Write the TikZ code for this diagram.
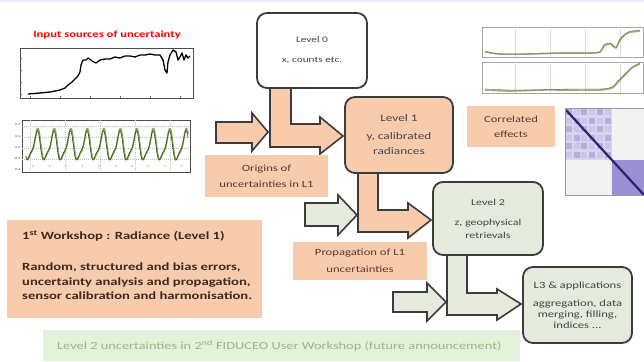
\documentclass[tikz,border=0pt]{standalone}
\usepackage{fontspec}
\setmainfont{Carlito}[FakeStretch=1.33]
\definecolor{peach}{HTML}{F8CBAD}
\definecolor{sage}{HTML}{E4EADC}
\definecolor{mint}{HTML}{E3F0DA}
\definecolor{minttext}{HTML}{9DB48B}
\definecolor{edge}{HTML}{3C3C3C}
\definecolor{ink}{HTML}{5A3A2A}
\definecolor{gray4}{HTML}{454545}
\definecolor{plotgreen}{HTML}{7FA34A}
\definecolor{matpurple}{HTML}{9C90D4}
\definecolor{matlight}{HTML}{D9D3F0}
\definecolor{matdark}{HTML}{2A2470}
\begin{document}
\begin{tikzpicture}[x=1pt,y=-1pt,
  levelbox/.style={draw=edge, line width=1.8pt, rounded corners=10pt, align=center, text=gray4, inner sep=2pt},
  notebox/.style={fill=peach, align=center, text=ink, inner sep=0pt},
  blockarrow/.style={draw=edge, line width=1.6pt, line join=miter},
  axesbox/.style={draw=black!70, line width=0.6pt},
]
\useasboundingbox (0,0) rectangle (644,361);
\fill[white] (0,0) rectangle (644,361);
\fill[blue!8] (0,0) rectangle (644,2);

% ---------- left plots ----------
\node[text=red, font=\fontsize{9.5}{10}\selectfont\bfseries] (title) at (107,35) {Input sources of uncertainty};
\draw[axesbox] (20,48) rectangle (193,98);
\foreach \t in {30,60,90,120,150,180} \draw[black!60, line width=0.4pt] (\t,98) -- (\t,96);
\foreach \t in {58,70,82,94} \draw[black!60, line width=0.4pt] (20,\t) -- (22,\t);
\draw[black, line width=1.3pt, line join=round] plot coordinates {(28,94) (40,93) (50,92) (55,91) (60,90) (65,88) (68,85) (72,82) (75,79) (78,76) (80,72) (81,65) (83,60) (86,60) (88,58) (92,61) (96,63) (100,60) (105,59) (110,59) (115,57) (120,58) (125,56) (130,56) (135,57) (140,55) (145,55) (150,54) (155,55) (160,55) (163,60) (165,70) (167,73) (168,62) (170,55) (173,50) (176,52) (178,60) (180,57) (182,53) (184,60) (186,55) (188,58) (190,56)};

\draw[axesbox] (22,120) rectangle (190,172);
\foreach \gy in {126,137,148,159} \draw[black!25, dash pattern=on 1pt off 1pt, line width=0.4pt] (22,\gy) -- (190,\gy);
\foreach \gx in {30,65,100,135,170} \draw[black!25, dash pattern=on 1pt off 1pt, line width=0.4pt] (\gx,120) -- (\gx,172);
\foreach \gy/\lab in {125/0.4,137/0.2,148/0.0,159/-0.2,170/-0.4}
  \node[font=\fontsize{3}{3}\selectfont, text=black!70, anchor=east, inner sep=0.5pt] at (21,\gy) {\lab};
\draw[plotgreen, line width=1.6pt, line join=round] plot[domain=26:188, samples=300, smooth] (\x, {146 - 14*sin(\x*21.8) + 4*sin(\x*43.6+40)});
\draw[black!75, line width=0.5pt, line join=round] plot[domain=26:188, samples=300, smooth] (\x, {147 - 13*sin(\x*21.8+10) + 4*sin(\x*43.6+50)});
\foreach \dx in {0,...,9} \fill[orange!70!yellow] ({33+16.5*\dx},166) circle (0.8);

% ---------- right plots ----------
\draw[axesbox, black!35] (482,27) rectangle (643,57);
\draw[axesbox, black!35] (482,62) rectangle (643,93);
\foreach \gx in {515,550,585,620} {
  \draw[black!15, line width=0.3pt] (\gx,27) -- (\gx,57);
  \draw[black!15, line width=0.3pt] (\gx,62) -- (\gx,93);
}
\draw[plotgreen!80, line width=1.6pt, line join=round] plot[smooth] coordinates {(485,52) (500,54) (530,54) (560,53) (590,53) (600,52) (604,46) (610,44) (616,48) (620,40) (628,33) (640,31)};
\draw[black!60, line width=0.4pt] plot[smooth] coordinates {(485,51) (500,54) (530,54) (560,53) (590,53) (600,52) (604,45) (610,43) (616,47) (620,39) (628,32) (640,30)};
\draw[plotgreen!80, line width=1.6pt, line join=round] plot[smooth] coordinates {(485,90) (510,91) (540,90) (570,90) (600,90) (612,88) (618,82) (625,75) (632,68) (640,64)};
\draw[black!60, line width=0.4pt] plot[smooth] coordinates {(485,89) (510,90) (540,90) (570,89) (600,89) (612,87) (618,81) (625,74) (632,67) (640,63)};

% ---------- correlation matrix ----------
\fill[black!5] (565,108) rectangle (644,195);
\fill[matlight] (566,109) rectangle (612,160);
\foreach \i in {0,...,5} \foreach \j in {0,...,5} {
  \pgfmathsetmacro{\op}{mod(\i+\j,2)==0 ? 0.55 : 0.2}
  \fill[matpurple, opacity=\op] ({566+\i*7.7},{109+\j*8.5}) rectangle ({566+\i*7.7+6},{109+\j*8.5+6});
}
\fill[matpurple] (612,160) rectangle (644,195);
\draw[matdark, line width=2.2pt] (566,110) -- (644,195);
\draw[black!40, line width=0.4pt] (565,108) rectangle (644,195);

% ---------- block arrows (under the boxes) ----------
\draw[blockarrow, fill=peach] (216,122) -- (252,122) -- (252,113) -- (268,132) -- (252,151) -- (252,143) -- (216,143) -- cycle;
\draw[blockarrow, fill=peach] (270,80) -- (270,147) -- (320,147) -- (320,154) -- (343,136) -- (320,117) -- (320,124) -- (291,124) -- (291,80) -- cycle;

\draw[blockarrow, fill=sage] (305,203) -- (338,203) -- (338,195) -- (357,215) -- (338,235) -- (338,226) -- (305,226) -- cycle;
\draw[blockarrow, fill=peach] (358,165) -- (358,232) -- (408,232) -- (408,238) -- (431,220) -- (408,203) -- (408,210) -- (378,210) -- (378,165) -- cycle;

\draw[blockarrow, fill=sage] (393,292) -- (427,292) -- (427,283) -- (446,302) -- (427,321) -- (427,312) -- (393,312) -- cycle;
\draw[blockarrow, fill=sage] (447,248) -- (447,315) -- (497,315) -- (497,320) -- (521,304) -- (497,289) -- (497,293) -- (467,293) -- (467,248) -- cycle;

% ---------- level boxes ----------
\node[levelbox, fill=white, minimum width=110pt, minimum height=75pt, font=\fontsize{8.5}{11}\selectfont] (l0) at (312,50.5) {Level 0\\[9pt]x, counts etc.};
\node[levelbox, fill=peach, minimum width=108pt, minimum height=76pt, font=\fontsize{10}{15}\selectfont] (l1) at (399,135) {Level 1\\[3pt]y, calibrated\\radiances};
\node[levelbox, fill=sage, minimum width=110pt, minimum height=73pt, font=\fontsize{9}{13}\selectfont] (l2) at (488,218.5) {Level 2\\[7pt]z, geophysical\\retrievals};
\node[levelbox, fill=sage, minimum width=109pt, minimum height=76pt, font=\fontsize{9.5}{10.7}\selectfont] (l3) at (577.5,305) {L3 \& applications\\[8pt]aggregation, data\\merging, filling,\\indices ...};

% ---------- note boxes ----------
\node[notebox, minimum width=123pt, minimum height=42pt, font=\fontsize{9.5}{16}\selectfont] (origins) at (266.5,176) {Origins of\\uncertainties in L1};
\node[notebox, minimum width=134pt, minimum height=38pt, font=\fontsize{9.5}{17}\selectfont] (prop) at (360,261) {Propagation of L1\\uncertainties};
\node[notebox, minimum width=88pt, minimum height=41pt, font=\fontsize{9.4}{15}\selectfont] (corr) at (511,126.5) {Correlated\\effects};

\fill[peach] (7,220) rectangle (262,318);
\node[anchor=west, text=ink!70!black, font=\fontsize{11}{13}\selectfont\bfseries, inner sep=0pt] (ws) at (22,236) {1\textsuperscript{st} Workshop : Radiance (Level 1)};
\node[anchor=north west, align=left, text=ink!70!black, font=\fontsize{11}{14.5}\selectfont\bfseries, inner sep=0pt] (wsbody) at (22,263) {Random, structured and bias errors,\\uncertainty analysis and propagation,\\sensor calibration and harmonisation.};

\node[fill=mint, minimum width=477pt, minimum height=31pt, inner sep=0pt] (bottom) at (281.5,345) {};
\node[anchor=west, text=minttext, font=\fontsize{10.8}{13}\selectfont, inner sep=0pt] (bottomtext) at (57,346) {Level 2 uncertainties in 2\textsuperscript{nd} FIDUCEO User Workshop (future announcement)};
\end{tikzpicture}
\end{document}
